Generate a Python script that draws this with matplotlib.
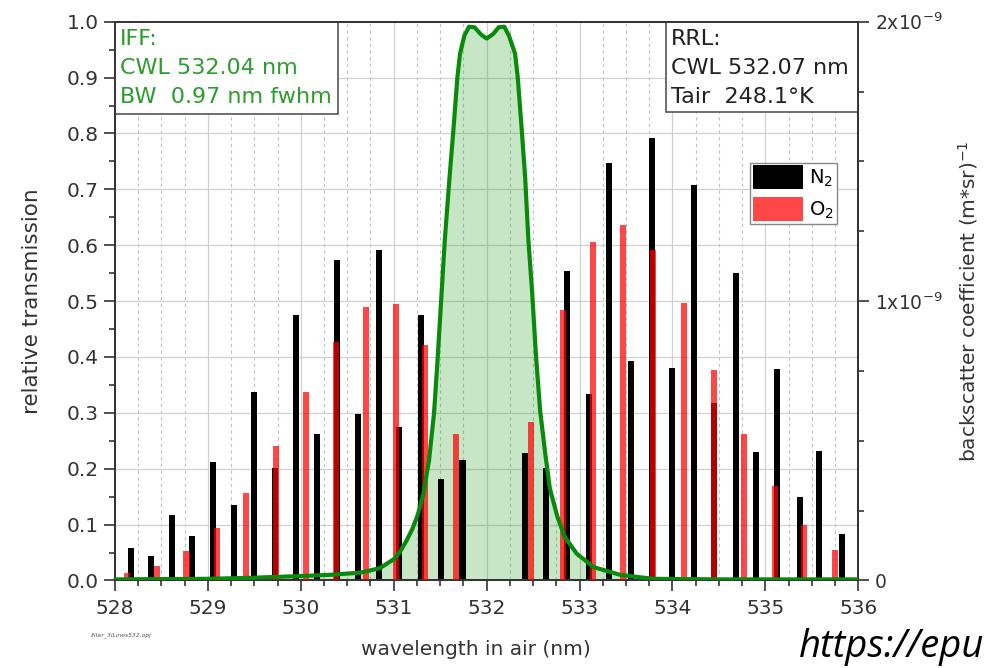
import matplotlib
matplotlib.use("Agg")
import matplotlib.pyplot as plt
from matplotlib.patches import Patch, Rectangle
from matplotlib.ticker import MultipleLocator, FixedLocator

plt.rcParams["font.family"] = ["DejaVu Sans"]
plt.rcParams["mathtext.fontset"] = "dejavusans"

# interference filter transmission
filter_wl = [528.0, 529.0, 529.5, 530.0, 530.3, 530.64, 530.85, 531.0, 531.07,
             531.14, 531.2, 531.26, 531.32, 531.38, 531.434, 531.47, 531.51,
             531.55, 531.60, 531.642, 531.685, 531.714, 531.76, 531.81, 531.87,
             531.94, 532.0, 532.07, 532.13, 532.19, 532.24, 532.306, 532.335,
             532.378, 532.415, 532.449, 532.49, 532.53, 532.575, 532.63, 532.68,
             532.76, 532.84, 532.97, 533.15, 533.44, 533.79, 534.5, 535.5, 536.0]
filter_t = [0.002, 0.003, 0.005, 0.008, 0.010, 0.014, 0.022, 0.038, 0.052,
            0.072, 0.092, 0.118, 0.156, 0.215, 0.300, 0.390, 0.500,
            0.610, 0.720, 0.806, 0.900, 0.943, 0.975, 0.991, 0.990,
            0.977, 0.970, 0.978, 0.990, 0.991, 0.975, 0.943, 0.900,
            0.806, 0.720, 0.610, 0.515, 0.405, 0.305, 0.228, 0.165,
            0.115, 0.078, 0.048, 0.024, 0.010, 0.003, 0.002, 0.002, 0.002]

# rotational Raman lines, backscatter in units of 1e-9 (m*sr)^-1
n2_wl = [528.17, 528.39, 528.61, 528.83, 529.06, 529.28, 529.50, 529.72,
         529.95, 530.17, 530.39, 530.62, 530.84, 531.06, 531.29, 531.51,
         531.74, 532.41, 532.64, 532.87, 533.10, 533.32, 533.55, 533.78,
         534.00, 534.23, 534.45, 534.68, 534.90, 535.13, 535.37, 535.58,
         535.82]
n2_beta = [0.118, 0.086, 0.236, 0.160, 0.424, 0.270, 0.674, 0.404,
           0.950, 0.526, 1.146, 0.596, 1.182, 0.548, 0.950, 0.362,
           0.432, 0.456, 0.402, 1.108, 0.668, 1.496, 0.786, 1.582,
           0.760, 1.416, 0.634, 1.102, 0.460, 0.756, 0.300, 0.464,
           0.168]

o2_wl = [528.13, 528.45, 528.77, 529.10, 529.41, 529.73, 530.06, 530.38,
         530.70, 531.02, 531.34, 531.67, 532.48, 532.82, 533.14, 533.47,
         533.79, 534.12, 534.45, 534.77, 535.10, 535.42, 535.75]
o2_beta = [0.026, 0.052, 0.106, 0.188, 0.314, 0.482, 0.674, 0.854,
           0.980, 0.990, 0.842, 0.526, 0.568, 0.968, 1.210, 1.274,
           1.184, 0.992, 0.754, 0.526, 0.338, 0.198, 0.110]

fig = plt.figure(figsize=(9.86, 6.68), dpi=100)
ax = fig.add_axes([0.1166, 0.131, 0.7539, 0.8365])
ax2 = ax.twinx()

# filter on left axis
ax.fill_between(filter_wl, filter_t, color="#33a633", alpha=0.28, lw=0, zorder=1)

# Raman lines on right axis, red drawn semi-transparent over black
scale = 1e-9
ax2.bar(n2_wl, [b * scale for b in n2_beta], width=0.065, color="black", zorder=2)
ax2.bar(o2_wl, [b * scale for b in o2_beta], width=0.065, color="red", alpha=0.72, zorder=3)
ax2.plot(filter_wl, filter_t, color="#0a8a0a", lw=3, transform=ax.transData, zorder=4,
         solid_joinstyle="round")

ax.set_xlim(528, 536)
ax.set_ylim(0, 1.0)
ax2.set_ylim(0, 2e-9)

ax.xaxis.set_major_locator(MultipleLocator(1))
ax.xaxis.set_minor_locator(MultipleLocator(0.25))
ax.yaxis.set_major_locator(MultipleLocator(0.1))
ax.yaxis.set_minor_locator(MultipleLocator(0.05))
ax.set_yticklabels([f"{v:.1f}" for v in ax.get_yticks()])

ax2.yaxis.set_major_locator(FixedLocator([0, 1e-9, 2e-9]))
ax2.yaxis.set_minor_locator(MultipleLocator(0.25e-9))
ax2.set_yticklabels(["0", r"1x10$^{-9}$", r"2x10$^{-9}$"])

ax.grid(which="major", axis="both", color="#d0d0d0", lw=0.9, ls="-")
ax.grid(which="minor", axis="x", color="#b8c4cc", lw=0.8, ls=(0, (3, 3)))
ax.set_axisbelow(True)

for a in (ax, ax2):
    a.tick_params(which="major", direction="out", length=8, width=1.2,
                  labelsize=14.5, colors="#333333", labelcolor="#333333")
    a.tick_params(which="minor", direction="out", length=4.5, width=1.2, colors="#333333")
    for sp in a.spines.values():
        sp.set_color("#333333")
        sp.set_linewidth(1.3)
ax.tick_params(axis="x", pad=5)
ax2.tick_params(axis="y", pad=4, labelsize=13.5)

ax.set_xlabel("wavelength in air (nm)", fontsize=14.5, color="#333333")
ax.xaxis.set_label_coords(0.485, -0.106)
ax.set_ylabel("relative transmission", fontsize=15.5, color="#333333", labelpad=18)
ax2.set_ylabel(r"backscatter coefficient (m*sr)$^{-1}$", fontsize=14.5, color="#333333",
               labelpad=10)

# annotation boxes flush with the frame
ax.add_patch(Rectangle((0, 0.835), 0.300, 0.165, transform=ax.transAxes, fc="white",
                       ec="#555555", lw=1.2, zorder=6, clip_on=False))
ax.add_patch(Rectangle((0.741, 0.838), 0.259, 0.162, transform=ax.transAxes, fc="white",
                       ec="#555555", lw=1.2, zorder=6, clip_on=False))
ax.text(0.007, 0.987, "IFF:\nCWL 532.04 nm\nBW  0.97 nm fwhm", transform=ax.transAxes,
        ha="left", va="top", fontsize=16, color="#2a9d2a", linespacing=1.55, zorder=7)
ax.text(0.748, 0.987, "RRL:\nCWL 532.07 nm\nTair  248.1°K", transform=ax.transAxes,
        ha="left", va="top", fontsize=16, color="#222222", linespacing=1.55, zorder=7)

handles = [Patch(facecolor="black", label="N$_2$"),
           Patch(facecolor="red", alpha=0.72, label="O$_2$")]
leg = ax2.legend(handles=handles, loc="upper left", bbox_to_anchor=(0.854, 0.748),
                 borderaxespad=0, fontsize=14, handlelength=2.6, handleheight=1.45,
                 fancybox=False, framealpha=1, edgecolor="#888888", borderpad=0.15,
                 labelspacing=0.45, handletextpad=0.3)
leg.set_zorder(7)

fig.text(0.092, 0.047, "filter_3iLines532.opj", fontsize=4.3, style="italic", color="#555555")
fig.text(0.81, 0.017, "https://epu", fontsize=27.5, style="italic", color="black",
         family="Open Sans")

fig.savefig("out.png", dpi=100)
